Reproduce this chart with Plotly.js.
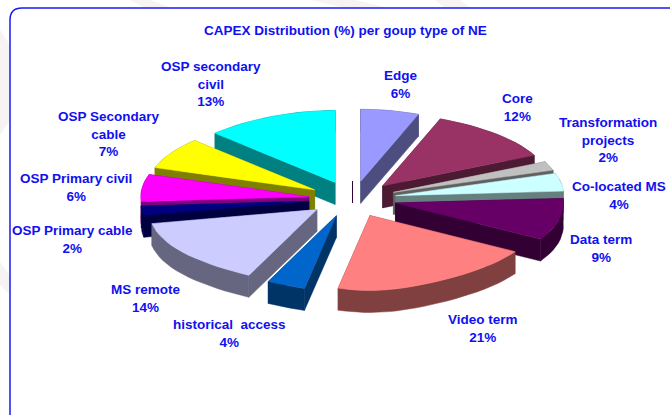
<!DOCTYPE html>
<html>
<head>
<meta charset="utf-8">
<script src="https://cdn.plot.ly/plotly-3.0.1.min.js"></script>
<style>html,body{margin:0;padding:0;background:#fff}#chart{width:670px;height:415px}</style>
</head>
<body>
<div id="chart"></div>
<script>
// ---- data ----
const categories = ["Edge","Core","Transformation<br>projects","Co-located MS","Data term","Video term","historical\u00A0\u00A0access","MS remote","OSP Primary cable","OSP Primary civil","OSP Secondary<br>cable","OSP secondary<br>civil"];
const values = [6,12,2,4,9,21,4,14,2,6,7,13];
const topColors = ["#9999FF","#993366","#C0C0C0","#CCFFFF","#660066","#FF8080","#0066CC","#CCCCFF","#000080","#FF00FF","#FFFF00","#00FFFF"];
const sideColors = ["#4D4D80","#4D1A33","#606060","#668080","#330033","#804040","#003366","#666680","#000040","#800080","#808000","#008080"];
const chartTitle = "CAPEX Distribution (%) per goup type of NE";
// ---- label placement (layout only) ----
const labelX = [400,517,608,619,601,483,229,146,72,76,109,211];
const labelY = [84,107,140,195,248,328,333,298,239,187,134,84];
// ---- projection of the tilted pie onto the page ----
const cx=352.5, cy=199, rx=168, ryBack=72, ryFront=75, depth=22, pullX=44, pullY=18;
const toRad=Math.PI/180;
function proj(deg){
  const t=deg*toRad,s=Math.sin(t),c=Math.cos(t);
  const k=c>0?0.09:0.27;
  return [rx*s*(1-k*c*c*c*c), -(c>0?ryBack:ryFront)*c];
}
const total=values.reduce((a,b)=>a+b,0);
let run=0;
const slices=values.map((v,i)=>{
  const a0=run/total*360; run+=v; const a1=run/total*360; const mid=(a0+a1)/2;
  const ax=cx+pullX*Math.sin(mid*toRad), ay=cy-pullY*Math.cos(mid*toRad);
  const arc=[]; const n=Math.max(3,Math.ceil((a1-a0)/3));
  for(let j=0;j<=n;j++){const p=proj(a0+(a1-a0)*j/n);arc.push([ax+p[0],ay+p[1]]);}
  return {i,mid,ax,ay,arc};
});
function poly(pts,color){
  return {type:"scatter",mode:"lines",x:pts.map(p=>p[0]).concat(pts[0][0]),y:pts.map(p=>p[1]).concat(pts[0][1]),
    fill:"toself",fillcolor:color,line:{color:color,width:0.5},hoverinfo:"skip",showlegend:false};
}
function drop(pts){return pts.map(p=>[p[0],p[1]+depth]);}
const traces=[];
// the reference holds one empty slice at twelve o'clock: only its edge shows
traces.push({type:"scatter",mode:"lines",x:[cx,cx],y:[cy-pullY,cy-pullY+depth],line:{color:"#330033",width:1},hoverinfo:"skip",showlegend:false});
slices.slice().sort((a,b)=>Math.cos(b.mid*toRad)-Math.cos(a.mid*toRad)).forEach(s=>{
  const side=sideColors[s.i],apex=[s.ax,s.ay],first=s.arc[0],last=s.arc[s.arc.length-1];
  traces.push(poly([apex,first].concat(drop([first,apex])),side));
  traces.push(poly([apex,last].concat(drop([last,apex])),side));
  traces.push(poly(s.arc.concat(drop(s.arc).reverse()),side));
  traces.push(poly([apex].concat(s.arc),topColors[s.i]));
});
const labelColor="#1010F0", font={family:"Liberation Sans, Arial, sans-serif",size:13.5,color:labelColor};
const annotations=categories.map((c,i)=>({x:labelX[i],y:labelY[i],xref:"x",yref:"y",text:"<b>"+c+"<br>"+values[i]+"%</b>",
  showarrow:false,align:"center",xanchor:"center",yanchor:"middle",font:font}));
annotations.push({x:345,y:30,xref:"x",yref:"y",text:"<b>"+chartTitle+"</b>",showarrow:false,xanchor:"center",yanchor:"middle",
  font:{family:"Liberation Sans, Arial, sans-serif",size:13.5,color:labelColor}});
const wm="#F5F3F3";
const shapes=[
  {type:"path",path:"M 130 0 L 150 0 L 172 8 L 145 8 Z",fillcolor:wm,line:{width:0},layer:"below"},
  {type:"path",path:"M 310 0 L 355 0 L 388 8 L 345 8 Z",fillcolor:wm,line:{width:0},layer:"below"},
  {type:"path",path:"M 435 0 L 460 0 L 470 8 L 445 8 Z",fillcolor:wm,line:{width:0},layer:"below"},
  {type:"path",path:"M 0 30 L 10 45 L 10 120 L 0 135 Z",fillcolor:wm,line:{width:0},layer:"below"},
  {type:"path",path:"M 0 262 L 10 275 L 10 295 L 0 285 Z",fillcolor:wm,line:{width:0},layer:"below"},
  {type:"path",path:"M 10 416 L 10 20 Q 10 8 22 8 L 671 8 L 671 416 Z",fillcolor:"#FFFFFF",line:{color:"#1A1AF0",width:1.5},layer:"below"}
];
Plotly.newPlot("chart",traces,{
  width:670,height:415,margin:{l:0,r:0,t:0,b:0},paper_bgcolor:"#fff",plot_bgcolor:"rgba(0,0,0,0)",showlegend:false,
  xaxis:{range:[0,670],visible:false,fixedrange:true},
  yaxis:{range:[415,0],visible:false,fixedrange:true},
  annotations:annotations,shapes:shapes
},{displayModeBar:false,staticPlot:true});
</script>
</body>
</html>
